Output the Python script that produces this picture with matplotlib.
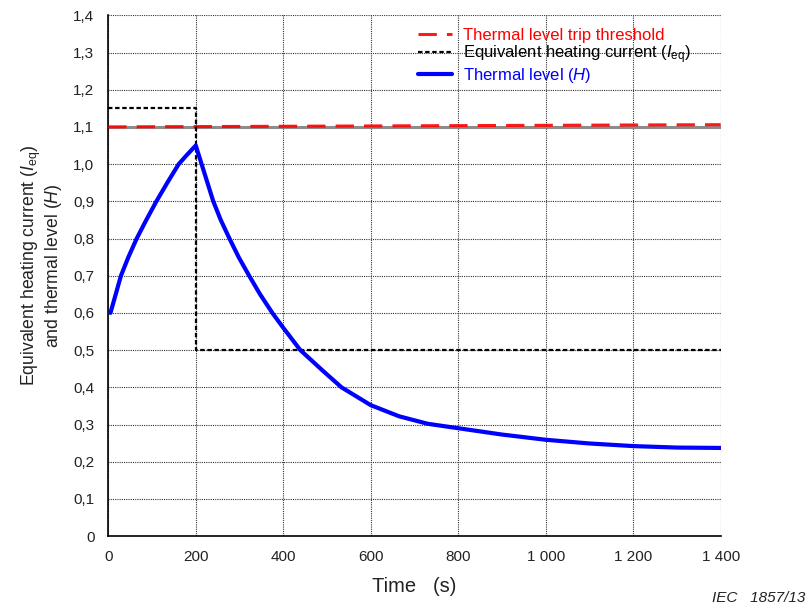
import matplotlib
matplotlib.use("Agg")
import matplotlib.pyplot as plt
from matplotlib.ticker import FixedLocator, FuncFormatter

plt.rcParams['font.family'] = ['Liberation Sans', 'DejaVu Sans']
plt.rcParams['mathtext.fontset'] = 'custom'
plt.rcParams['mathtext.rm'] = 'Liberation Sans'
plt.rcParams['mathtext.it'] = 'Liberation Sans:italic'

# thermal level trip threshold
thr_t = [0, 1400]
thr_v = [1.100, 1.106]

# equivalent heating current (step)
ieq_t = [0, 200, 200, 1400]
ieq_v = [1.15, 1.15, 0.5, 0.5]

# thermal level H
h_t = [5, 17, 29, 46, 65, 87, 110, 135, 161, 180, 200,
       240, 257, 277, 298, 322, 347, 375, 400, 439, 490, 533,
       600, 665, 730, 800, 900, 1000, 1100, 1200, 1300, 1400]
h_v = [0.60, 0.65, 0.70, 0.75, 0.80, 0.85, 0.90, 0.95, 1.00, 1.025, 1.05,
       0.90, 0.85, 0.80, 0.75, 0.70, 0.65, 0.60, 0.56, 0.50, 0.445, 0.40,
       0.352, 0.322, 0.302, 0.29, 0.273, 0.259, 0.249, 0.242, 0.238, 0.237]

x_ticks = [0, 200, 400, 600, 800, 1000, 1200, 1400]
y_ticks = [i / 10 for i in range(15)]

fig = plt.figure(figsize=(8.08, 6.12), dpi=100)
ax = fig.add_axes([0.134, 0.124, 0.758, 0.851])

ax.set_xlim(0, 1400)
ax.set_ylim(0, 1.4)
ax.xaxis.set_major_locator(FixedLocator(x_ticks))
ax.yaxis.set_major_locator(FixedLocator(y_ticks))
ax.xaxis.set_major_formatter(FuncFormatter(lambda v, p: f"{int(v):,}".replace(",", " ")))
ax.yaxis.set_major_formatter(FuncFormatter(lambda v, p: "0" if v == 0 else f"{v:.1f}".replace(".", ",")))
ax.tick_params(length=0, labelsize=11, colors='#222222', pad=10)

ax.grid(True, linestyle=(0, (1, 1)), color='0.2', linewidth=0.8)
for s in ['top', 'right']:
    ax.spines[s].set_visible(False)
for s in ['left', 'bottom']:
    ax.spines[s].set_linewidth(1.2)

ax.axhline(1.1, color='0.55', linewidth=2.2, zorder=2)
ax.plot(thr_t, thr_v, color='red', linestyle=(0, (6, 3.3)), linewidth=2.2, alpha=0.9,
        label='Thermal level trip threshold', zorder=3)
ax.plot(ieq_t, ieq_v, color='black', linestyle=(0, (2, 1.2)), linewidth=1.6,
        label='Equivalent heating current ($I_{\\rm eq}$)', zorder=3)
ax.plot(h_t, h_v, color='#0000ff', linewidth=3, solid_capstyle='round',
        solid_joinstyle='round', label='Thermal level ($H$)', zorder=4)

leg = ax.legend(loc='upper left', bbox_to_anchor=(0.506, 0.975), frameon=False,
                fontsize=12, handlelength=2.05, handletextpad=0.65,
                labelspacing=0.0, borderaxespad=0, borderpad=0)
for txt, c in zip(leg.get_texts(), ['red', 'black', '#0000ff']):
    txt.set_color(c)

ax.set_xlabel('Time   (s)', fontsize=14.5, labelpad=9, color='#222222')
ax.set_ylabel('Equivalent heating current ($I_{\\rm eq}$)\nand thermal level ($H$)',
              fontsize=12.7, color='#222222', linespacing=0.98)
ax.yaxis.set_label_coords(-0.072, 0.52)

fig.text(0.997, 0.012, 'IEC   1857/13', ha='right', va='bottom', fontsize=11,
         style='italic', color='#222222')

fig.savefig('out.png', dpi=100)
